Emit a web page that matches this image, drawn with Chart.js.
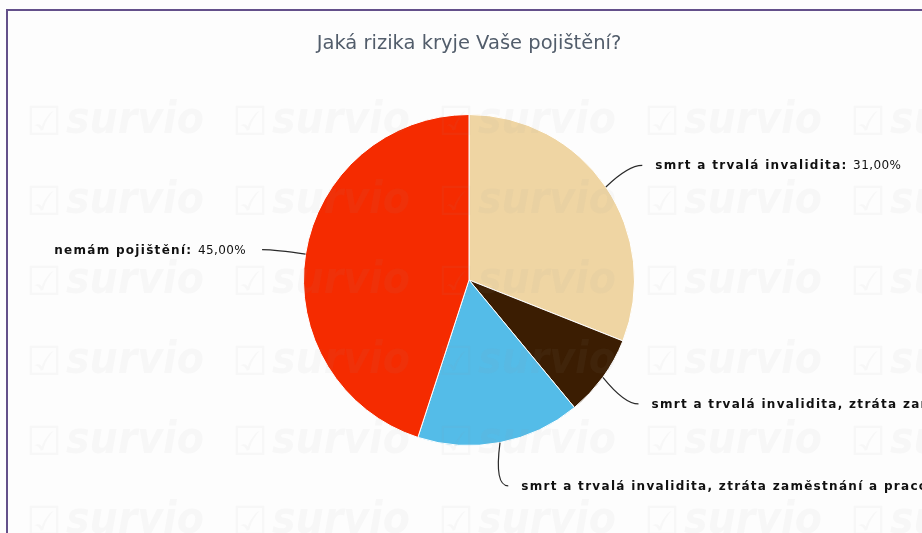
<!DOCTYPE html>
<html lang="cs">
  <head>
    <meta charset="UTF-8" />
    <title>Jaká rizika kryje Vaše pojištění?</title>
    <style>
      html, body { margin: 0; padding: 0; background: #fdfdfd; }
      #wrap { position: relative; width: 922px; height: 533px; overflow: hidden; }
      #frame {
        position: absolute; left: 6px; top: 9px; width: 940px; height: 560px;
        border-left: 2px solid #63508a; border-top: 2px solid #63508a;
        pointer-events: none;
      }
    </style>
  </head>
  <body>
    <div id="wrap">
      <canvas id="chart" width="922" height="533"></canvas>
      <div id="frame"></div>
    </div>
    <script src="https://cdn.jsdelivr.net/npm/chart.js"></script>
    <script>
      const labels = [
        "smrt a trvalá invalidita",
        "smrt a trvalá invalidita, ztráta zaměstnání",
        "smrt a trvalá invalidita, ztráta zaměstnání a pracovní neschopnost",
        "nemám pojištění",
      ];
      const values = [31, 8, 16, 45];
      const colors = ["#efd5a3", "#3b1d02", "#54bce8", "#f52b00"];

      // faint "survio" tiles over the whole picture
      const watermark = {
        id: "watermark",
        afterDatasetsDraw(chart) {
          const ctx = chart.ctx;
          ctx.save();
          ctx.fillStyle = "rgba(150,150,150,0.06)";
          ctx.textBaseline = "alphabetic";
          for (let row = 0; row < 6; row++) {
            for (let col = 0; col < 5; col++) {
              const x = 28 + col * 206;
              const y = 133 + row * 80;
              ctx.font = "bold 40px 'DejaVu Sans'";
              ctx.fillText("☑", x - 2, y + 2);
              ctx.font = "italic bold 44px 'DejaVu Sans Condensed', 'DejaVu Sans'";
              ctx.fillText("survio", x + 38, y);
            }
          }
          ctx.restore();
        },
      };

      const sliceLabels = {
        id: "sliceLabels",
        afterDraw(chart) {
          const ctx = chart.ctx;
          const meta = chart.getDatasetMeta(0);
          const total = values.reduce((a, b) => a + b, 0);
          ctx.save();
          meta.data.forEach((arc, i) => {
            const p = arc.getProps(["x", "y", "startAngle", "endAngle", "outerRadius"], true);
            const mid = (p.startAngle + p.endAngle) / 2;
            const cos = Math.cos(mid), sin = Math.sin(mid);
            const ex = p.x + cos * p.outerRadius, ey = p.y + sin * p.outerRadius;
            const lx = p.x + cos * (p.outerRadius + 44), ly = p.y + sin * (p.outerRadius + 42) + 2;
            const side = cos >= 0 ? 1 : -1;
            ctx.strokeStyle = "#2a2a2a";
            ctx.lineWidth = 1.2;
            ctx.beginPath();
            ctx.moveTo(ex, ey);
            ctx.quadraticCurveTo(lx - side * 14, ly, lx, ly);
            ctx.stroke();

            const name = labels[i] + ": ";
            const pct = ((values[i] / total) * 100).toFixed(2).replace(".", ",") + "%";
            ctx.textBaseline = "middle";
            ctx.fillStyle = "#111";
            ctx.font = "bold 12px 'DejaVu Sans'";
            ctx.letterSpacing = "1.3px";
            const w1 = ctx.measureText(name).width;
            ctx.font = "12px 'DejaVu Sans'";
            ctx.letterSpacing = "0.4px";
            const w2 = ctx.measureText(pct).width;
            let tx = side > 0 ? lx + 13 : lx - 16 - w1 - w2;
            ctx.font = "bold 12px 'DejaVu Sans'";
            ctx.letterSpacing = "1.3px";
            ctx.fillText(name, tx, ly + 1);
            ctx.font = "12px 'DejaVu Sans'";
            ctx.letterSpacing = "0.4px";
            ctx.fillText(pct, tx + w1, ly + 1);
          });
          ctx.restore();
        },
      };

      new Chart(document.getElementById("chart"), {
        type: "pie",
        data: {
          labels: labels,
          datasets: [
            {
              data: values,
              backgroundColor: colors,
              borderColor: "#ffffff",
              borderWidth: 1,
            },
          ],
        },
        options: {
          responsive: false,
          animation: false,
          layout: { padding: { left: 16, right: 0, top: 0, bottom: 87 } },
          plugins: {
            legend: { display: false },
            tooltip: { enabled: false },
            title: {
              display: true,
              text: "Jaká rizika kryje Vaše pojištění?",
              color: "#525d6b",
              font: { family: "'DejaVu Sans'", size: 19.5, weight: "normal" },
              padding: { top: 32, bottom: 58.6 },
            },
          },
        },
        plugins: [watermark, sliceLabels],
      });
    </script>
  </body>
</html>
